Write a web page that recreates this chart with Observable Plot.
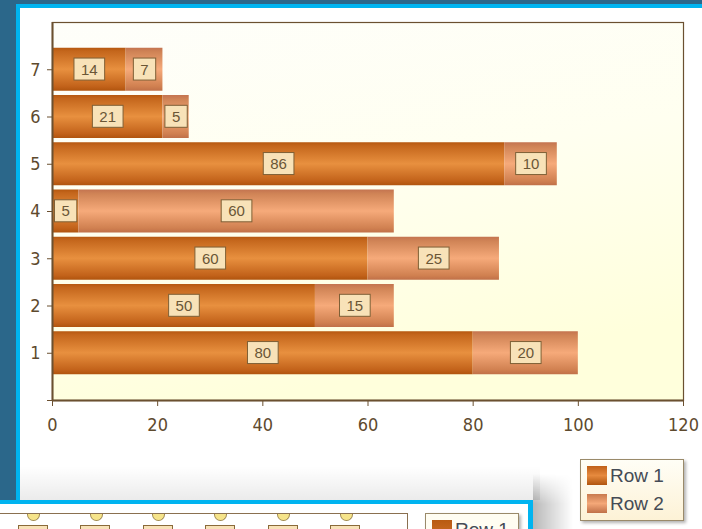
<!DOCTYPE html>
<html>
<head>
<meta charset="utf-8">
<script src="https://cdn.jsdelivr.net/npm/d3@7"></script>
<script src="https://cdn.jsdelivr.net/npm/@observablehq/plot@0.6"></script>
<style>
  html, body { margin:0; padding:0; }
  body { width:702px; height:529px; overflow:hidden; position:relative; background:#2b678a; font-family:"Liberation Sans", Arial, sans-serif; }
  #panel { position:absolute; left:16px; top:4px; width:682px; height:525px; border-left:4px solid #00b4f0; border-top:4px solid #00b4f0; background:#ffffff; }
  #chart { position:absolute; left:0; top:0; }
  #legend { position:absolute; left:580px; top:459px; width:102px; height:60px; border:1px solid #9a8a6a;
    background:linear-gradient(to bottom,#fffef6,#fdf2d6); box-shadow:2px 2px 3px rgba(0,0,0,0.3); }
  .lg { position:absolute; left:6px; font-size:19px; color:#454b55; height:22px; line-height:21px; }
  .sw { display:inline-block; width:20px; height:19px; vertical-align:top; margin-right:3px; margin-top:1px; }
  #shadowTop { position:absolute; left:20px; top:466px; width:520px; height:34px;
    background:linear-gradient(to bottom, rgba(0,0,0,0), rgba(0,0,0,0.08)); }
  #shadowRight { position:absolute; left:533px; top:474px; width:40px; height:55px;
    background:linear-gradient(to right, rgba(0,0,0,0.28), rgba(0,0,0,0));
    -webkit-mask-image:linear-gradient(to bottom, transparent, black 30px); mask-image:linear-gradient(to bottom, transparent, black 30px); }
  #lower { position:absolute; left:0; top:500px; width:528px; height:29px; border-top:4px solid #00b4f0; border-right:5px solid #00b4f0; background:#ffffff; overflow:hidden; }
  .semi { position:absolute; top:10px; width:11px; height:6px; background:#f6e48a; border:1px solid #a08a50; border-top:none; border-radius:0 0 7px 7px; }
  .lbox { position:absolute; top:21px; width:28px; height:14px; background:#f8e2b8; border:1px solid #8a6a3a; }
</style>
</head>
<body>
<div id="panel"></div>
<div id="shadowTop"></div>
<div id="shadowRight"></div>
<div id="chart"></div>
<div id="legend">
  <div class="lg" style="top:5px"><span class="sw" style="background:linear-gradient(#c06018,#e68a3e 50%,#b0550f)"></span>Row 1</div>
  <div class="lg" style="top:33px"><span class="sw" style="background:linear-gradient(#c87a4e,#f4a878 50%,#c07048)"></span>Row 2</div>
</div>
<div id="lower">
  <div style="position:absolute;left:0;top:9px;width:407px;height:1px;background:#8a7050"></div>
  <div style="position:absolute;left:407px;top:9px;width:1px;height:30px;background:#8a7050"></div>
  <div class="semi" style="left:27px"></div>
  <div class="semi" style="left:90px"></div>
  <div class="semi" style="left:152px"></div>
  <div class="semi" style="left:214px"></div>
  <div class="semi" style="left:277px"></div>
  <div class="semi" style="left:340px"></div>
  <div class="lbox" style="left:18px"></div>
  <div class="lbox" style="left:80px"></div>
  <div class="lbox" style="left:143px"></div>
  <div class="lbox" style="left:205px"></div>
  <div class="lbox" style="left:268px"></div>
  <div class="lbox" style="left:330px"></div>
  <div style="position:absolute;left:425px;top:9px;width:92px;height:30px;border:1px solid #9a8a6a;background:#fffdf2;box-shadow:2px 2px 3px rgba(0,0,0,0.3)">
    <div class="lg" style="top:5px;left:6px"><span class="sw" style="background:linear-gradient(#b85a12,#d07028)"></span>Row 1</div>
  </div>
</div>
<script>
const categories = [1, 2, 3, 4, 5, 6, 7];
const row1 = [80, 50, 60, 5, 86, 21, 14];
const row2 = [20, 15, 25, 60, 10, 5, 7];
const seriesNames = ["Row 1", "Row 2"];
const xTicks = [0, 20, 40, 60, 80, 100, 120];
const yTicks = [0, 1, 2, 3, 4, 5, 6, 7];

const data = categories.flatMap((c, i) => [
  {cat: c, series: seriesNames[0], x1: 0, x2: row1[i], v: row1[i]},
  {cat: c, series: seriesNames[1], x1: row1[i], x2: row1[i] + row2[i], v: row2[i]}
]);

const half = 0.455;
const shadowStyle = "drop-shadow(3px 3px 2px rgba(0,0,0,0.35))";

const svg = Plot.plot({
  width: 702,
  height: 470,
  marginLeft: 52,
  marginRight: 19,
  marginTop: 22,
  marginBottom: 70,
  style: {background: "transparent", color: "#5e4a2e", fontFamily: "'DejaVu Sans Condensed', 'DejaVu Sans', sans-serif", overflow: "visible"},
  x: {domain: [0, 120], label: null},
  y: {domain: [0, 8], label: null},
  marks: [
    Plot.frame({fill: "url(#bgGrad)", stroke: "#6b5030", strokeWidth: 1.2}),
    Plot.rect(data.filter(d => d.series === "Row 1"), {x1: "x1", x2: "x2", y1: d => d.cat - half, y2: d => d.cat + half, fill: "url(#g1)", style: {filter: shadowStyle}}),
    Plot.rect(data.filter(d => d.series === "Row 2"), {x1: "x1", x2: "x2", y1: d => d.cat - half, y2: d => d.cat + half, fill: "url(#g2)", style: {filter: shadowStyle}}),
    Plot.text(data, {x: d => (d.x1 + d.x2) / 2, y: "cat", text: d => String(d.v), fontSize: 15, fill: "#6a5636", fontFamily: "'Liberation Sans', Arial, sans-serif"}),
    Plot.axisX({ticks: xTicks, tickSize: 6, tickPadding: 12, fontSize: 18, stroke: "#6b5030", fill: "#5e4a2e"}),
    Plot.axisY({ticks: yTicks, tickSize: 5, tickPadding: 7, fontSize: 18, stroke: "#6b5030", fill: "#5e4a2e", tickFormat: d => d === 0 ? "" : String(d)}),
    Plot.ruleX([0], {stroke: "#6b5030", strokeWidth: 2}),
    Plot.ruleY([0], {stroke: "#6b5030", strokeWidth: 2})
  ]
});
document.getElementById("chart").append(svg);

const s = d3.select(svg);
const defs = s.insert("defs", ":first-child");
function grad(id, stops, x2 = "0", y2 = "1") {
  const g = defs.append("linearGradient").attr("id", id).attr("x1", "0").attr("y1", "0").attr("x2", x2).attr("y2", y2);
  stops.forEach(([o, c]) => g.append("stop").attr("offset", o).attr("stop-color", c));
}
grad("g1", [[0, "#b65810"], [0.08, "#c4661c"], [0.5, "#e8903f"], [0.9, "#c2621a"], [1, "#b0540e"]]);
grad("g2", [[0, "#c47450"], [0.1, "#d08456"], [0.5, "#f6aa7a"], [0.9, "#d08050"], [1, "#c07048"]]);
grad("bgGrad", [[0, "#fefefa"], [0.5, "#fffff0"], [1, "#ffffdc"]], "0.3", "1");

s.selectAll('g[aria-label="text"] text').each(function () {
  const b = this.getBBox();
  const r = document.createElementNS("http://www.w3.org/2000/svg", "rect");
  const cy = b.y + b.height / 2;
  r.setAttribute("x", b.x - 7);
  r.setAttribute("width", b.width + 14);
  r.setAttribute("y", cy - 11);
  r.setAttribute("height", 22);
  r.setAttribute("fill", "#f8e2b8");
  r.setAttribute("stroke", "#7e6036");
  r.setAttribute("stroke-width", "1");
  const t = this.getAttribute("transform");
  if (t) r.setAttribute("transform", t);
  this.parentNode.insertBefore(r, this);
});
</script>
</body>
</html>
